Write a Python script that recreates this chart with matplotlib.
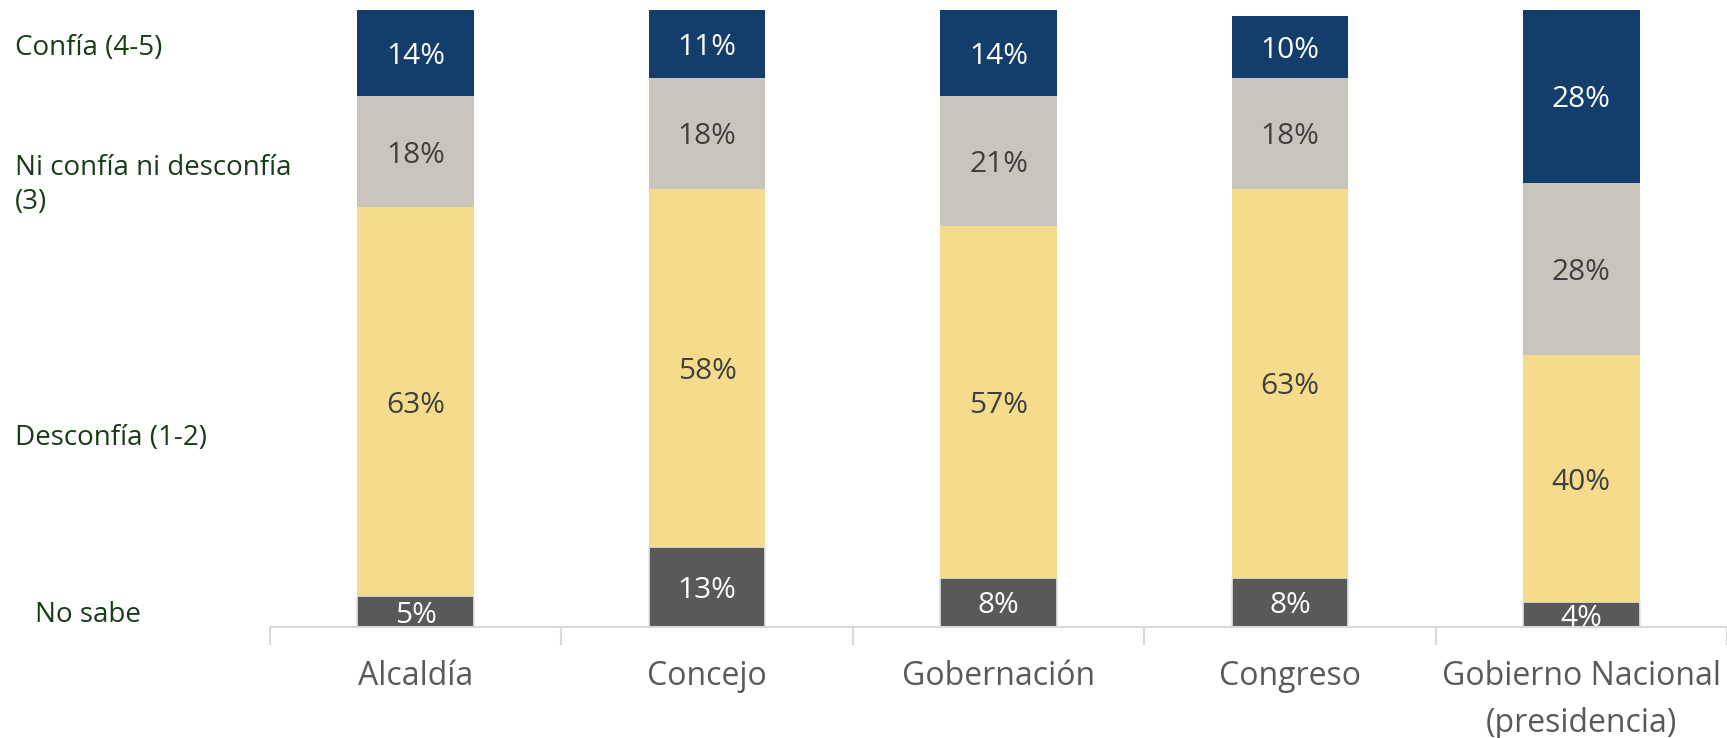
"""Stacked trust-by-institution bars (confianza en instituciones)."""
import numpy as np
import matplotlib
matplotlib.use("Agg")
import matplotlib.pyplot as plt

plt.rcParams["font.family"] = ["Open Sans", "DejaVu Sans"]

# --------------------------------------------------------------------------- #
# data (percent, bottom -> top)
# --------------------------------------------------------------------------- #
institutions = ["Alcaldía", "Concejo", "Gobernación", "Congreso",
                "Gobierno Nacional\n(presidencia)"]
no_sabe = [5, 13, 8, 8, 4]
desconfia = [63, 58, 57, 63, 40]
ni_ni = [18, 18, 21, 18, 28]
confia = [14, 11, 14, 10, 28]

series_names = ["No sabe", "Desconfía (1-2)", "Ni confía ni desconfía\n(3)",
                "Confía (4-5)"]
series_values = [no_sabe, desconfia, ni_ni, confia]
series_colors = ["#595959", "#f5db8c", "#c9c5bd", "#133d6b"]
label_colors = ["white", "#404040", "#404040", "white"]

# --------------------------------------------------------------------------- #
# figure
# --------------------------------------------------------------------------- #
fig = plt.figure(figsize=(17.27, 7.38), dpi=100)
W, H = 1727, 738
ax_left, ax_right, ax_top, ax_bottom = 270, 1727, 8, 627
ax = fig.add_axes([ax_left / W, 1 - ax_bottom / H,
                   (ax_right - ax_left) / W, (ax_bottom - ax_top) / H])

x = np.arange(len(institutions))
bottom = np.zeros(len(institutions))
for i, (vals, color, lcol) in enumerate(zip(series_values, series_colors, label_colors)):
    vals = np.array(vals, dtype=float)
    edge = "#dde6f0" if i == 0 else "none"   # the "no sabe" blocks have a faint outline
    bars = ax.bar(x, vals, width=0.4, bottom=bottom, color=color,
                  edgecolor=edge, linewidth=1.2, zorder=2)
    for rect, v in zip(bars, vals):
        cx = rect.get_x() + rect.get_width() / 2
        cy = rect.get_y() + rect.get_height() / 2
        ax.text(cx, cy, f"{v:.0f}%", ha="center", va="center_baseline",
                fontsize=21.5, color=lcol, zorder=3, clip_on=True)
    bottom += vals

ax.set_xlim(-0.5, len(institutions) - 0.5)
ax.set_ylim(0, 100.3)

# axes styling: only a light baseline with boundary ticks
for side in ("left", "right", "top"):
    ax.spines[side].set_visible(False)
ax.spines["bottom"].set_color("#d9d9d9")
ax.spines["bottom"].set_linewidth(1.5)
ax.spines["bottom"].set_zorder(4)
ax.set_yticks([])
ax.set_xticks(x)
ax.set_xticklabels(institutions, fontsize=23, color="#595959", linespacing=1.55)
ax.tick_params(axis="x", which="major", length=0, pad=24)
ax.set_xticks(np.arange(len(institutions) + 1) - 0.5, minor=True)
ax.tick_params(axis="x", which="minor", length=13, width=1.5, color="#d9d9d9")

# series names written at the left, next to the first bar
legend_color = "#173d17"
legend_pos = [(35, 615), (15, 438), (15, 185), (15, 48)]
for name, (px, py) in zip(series_names, legend_pos):
    fig.text(px / W, 1 - py / H, name, ha="left", va="center",
             fontsize=20, color=legend_color, linespacing=1.3)

fig.savefig("out.png", dpi=100)
